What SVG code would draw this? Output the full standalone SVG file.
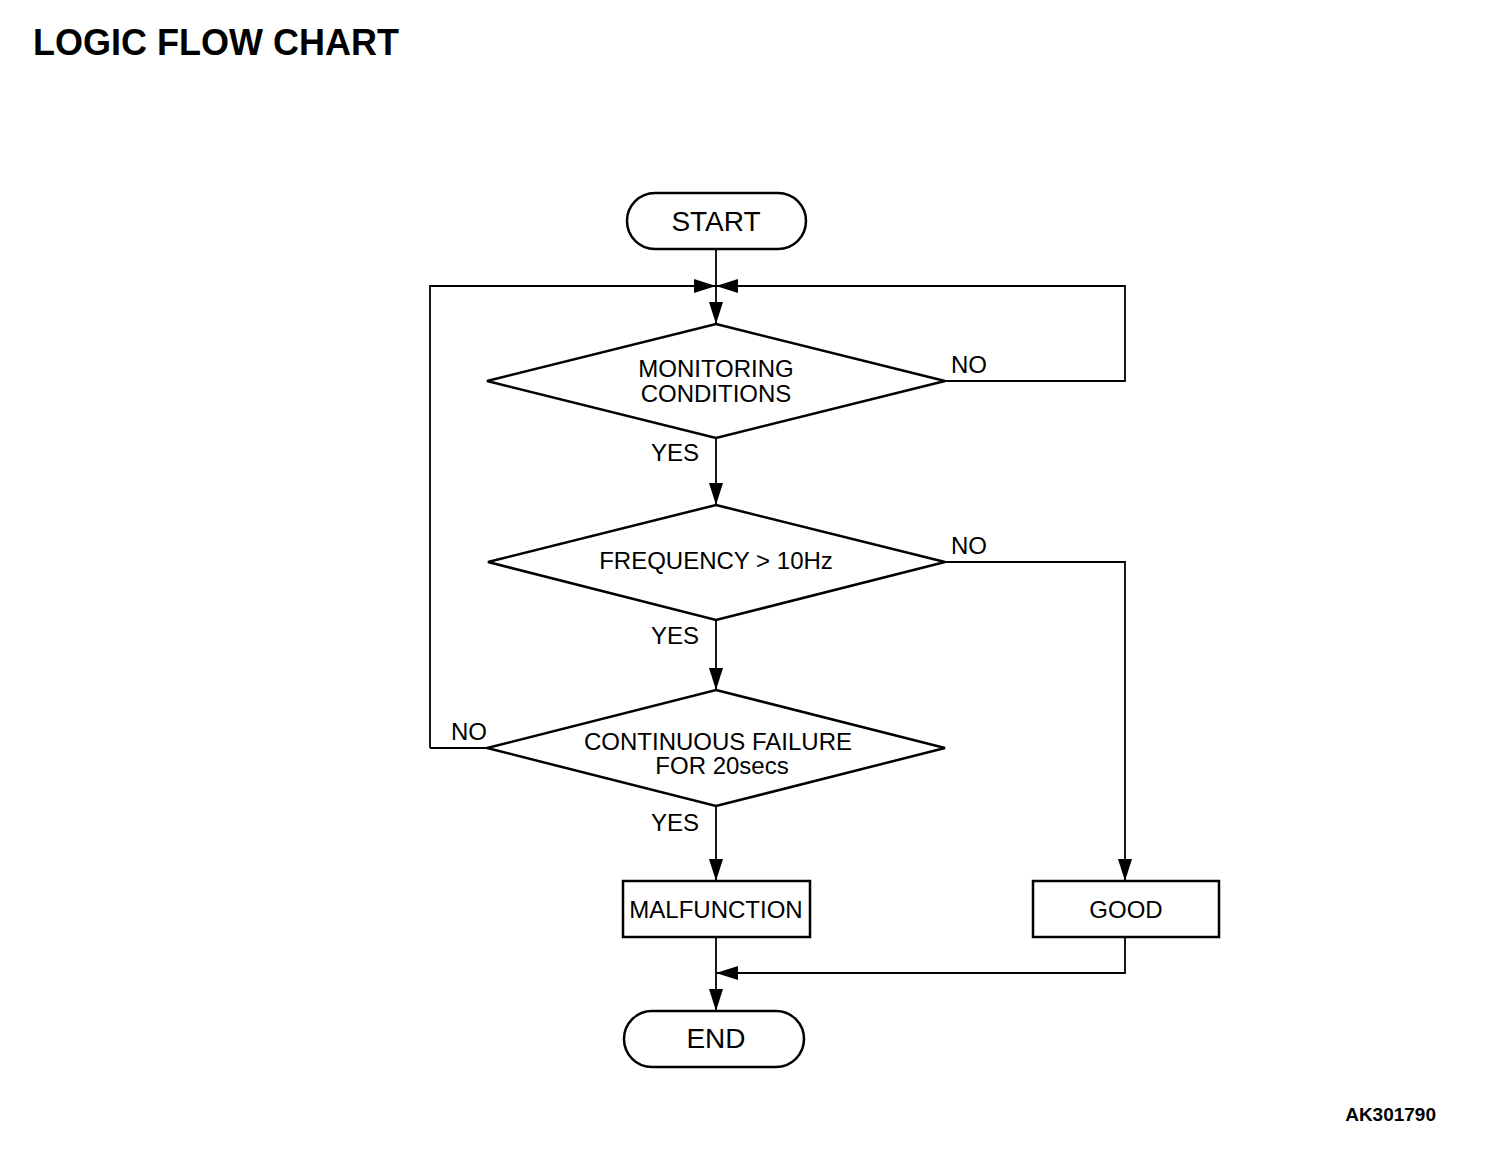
<svg xmlns="http://www.w3.org/2000/svg" width="1504" height="1158" viewBox="0 0 1504 1158">
<style>
.s{fill:#fff;stroke:#000;stroke-width:2.5}
.c{fill:none;stroke:#000;stroke-width:1.8}
.t{font-family:"Liberation Sans",Arial,sans-serif;font-size:24px;fill:#000;text-anchor:middle}
.l{font-family:"Liberation Sans",Arial,sans-serif;font-size:24px;fill:#000}
</style>
<defs>
<marker id="b" viewBox="0 0 22 14" refX="22" refY="7" markerWidth="22" markerHeight="14" markerUnits="userSpaceOnUse" orient="auto">
<path d="M0,0 L22,7 L0,14 z" fill="#000"/>
</marker>
</defs>
<rect width="1504" height="1158" fill="#fff"/>
<text x="33" y="55" font-family="'Liberation Sans',Arial,sans-serif" font-size="36" font-weight="bold">LOGIC FLOW CHART</text>
<text x="1436" y="1121" font-family="'Liberation Sans',Arial,sans-serif" font-size="19" font-weight="bold" text-anchor="end">AK301790</text>
<g id="connectors">
<path class="c" d="M716,249 V324" marker-end="url(#b)"/>
<path class="c" d="M430,748 H487 M430,748 V286 H716" marker-end="url(#b)"/>
<path class="c" d="M945,381 H1125 V286 H716" marker-end="url(#b)"/>
<path class="c" d="M716,438 V505" marker-end="url(#b)"/>
<path class="c" d="M716,620 V690" marker-end="url(#b)"/>
<path class="c" d="M945,562 H1125 V881" marker-end="url(#b)"/>
<path class="c" d="M716,806 V881" marker-end="url(#b)"/>
<path class="c" d="M716,937 V1011" marker-end="url(#b)"/>
<path class="c" d="M1125,937 V973 H716" marker-end="url(#b)"/>
<text class="l" x="951" y="373">NO</text>
<text class="l" x="651" y="461">YES</text>
<text class="l" x="951" y="554">NO</text>
<text class="l" x="651" y="644">YES</text>
<text class="l" x="451" y="740">NO</text>
<text class="l" x="651" y="831">YES</text>
</g>
<g id="start">
<rect class="s" x="627" y="193" width="179" height="56" rx="28" ry="28"/>
<text class="t" x="716" y="231" style="font-size:28px">START</text>
</g>
<g id="monitoring">
<polygon class="s" points="716,324 945,381 716,438 487,381"/>
<text class="t" x="716" y="377">MONITORING</text>
<text class="t" x="716" y="402">CONDITIONS</text>
</g>
<g id="frequency">
<polygon class="s" points="716,505 945,562 716,620 488,562"/>
<text class="t" x="716" y="569">FREQUENCY &gt; 10Hz</text>
</g>
<g id="continuous">
<polygon class="s" points="716,690 945,748 716,806 487,748"/>
<text class="t" x="718" y="750">CONTINUOUS FAILURE</text>
<text class="t" x="722" y="774">FOR 20secs</text>
</g>
<g id="malfunction">
<rect class="s" x="623" y="881" width="187" height="56"/>
<text class="t" x="716" y="918">MALFUNCTION</text>
</g>
<g id="good">
<rect class="s" x="1033" y="881" width="186" height="56"/>
<text class="t" x="1126" y="918">GOOD</text>
</g>
<g id="end">
<rect class="s" x="624" y="1011" width="180" height="56" rx="28" ry="28"/>
<text class="t" x="716" y="1048" style="font-size:28px">END</text>
</g>
</svg>
